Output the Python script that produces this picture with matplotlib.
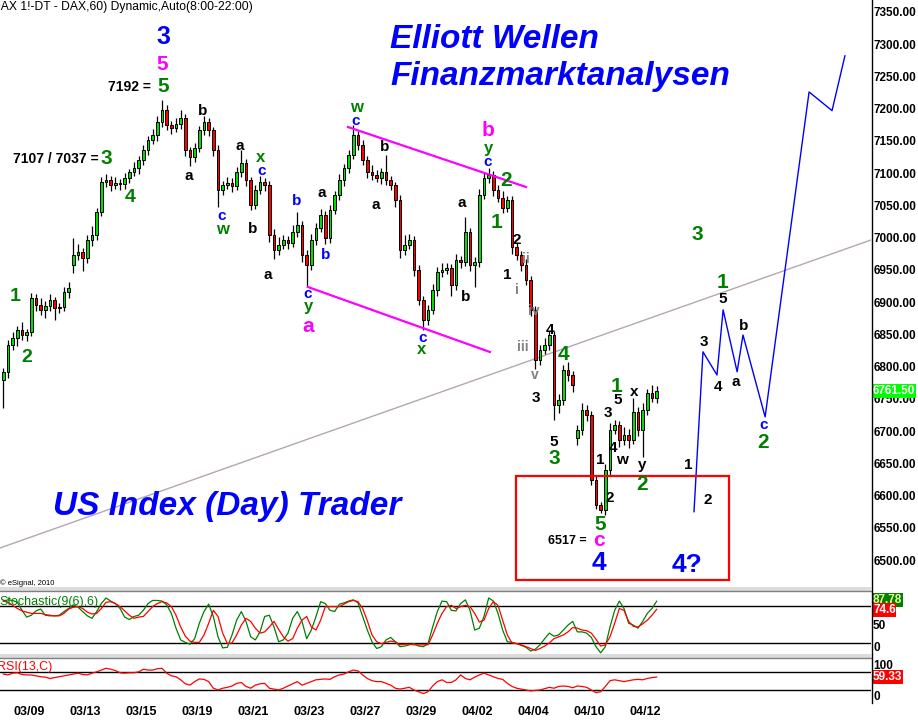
import matplotlib
matplotlib.use("Agg")
import matplotlib.pyplot as plt
from matplotlib.patches import Rectangle
from matplotlib.lines import Line2D
import numpy as np

plt.rcParams['font.family'] = ['Liberation Sans', 'DejaVu Sans']

W, H, DPI = 918, 721, 100

# ---------------------------------------------------------------- data
trading_days = ["03/08", "03/09", "03/12", "03/13", "03/14", "03/15", "03/16",
                "03/19", "03/20", "03/21", "03/22", "03/23", "03/26", "03/27",
                "03/28", "03/29", "03/30", "04/02", "04/03", "04/04", "04/05",
                "04/10", "04/11", "04/12"]
BARS_PER_DAY = 6
FIRST_SLOT = 3          # first bar sits in the 4th slot of 03/08

close = [6792, 6834, 6844, 6857, 6849, 6854, 6906, 6896, 6888, 6894,
         6903, 6891, 6892, 6916, 6922, 6973, 6978, 6968, 6996, 7004,
         7040, 7086, 7089, 7082, 7085, 7083, 7093, 7102, 7108, 7120,
         7136, 7151, 7159, 7179, 7198, 7175, 7170, 7176, 7186, 7136,
         7125, 7139, 7167, 7179, 7167, 7136, 7074, 7082, 7085, 7080,
         7102, 7116, 7089, 7051, 7074, 7086, 7082, 7004, 6981, 6989,
         6996, 6992, 7009, 7020, 6973, 6958, 6996, 7015, 7035, 6999,
         7043, 7066, 7089, 7108, 7128, 7159, 7144, 7120, 7102, 7097,
         7093, 7102, 7089, 7082, 7058, 6981, 6989, 6996, 6950, 6903,
         6872, 6888, 6919, 6947, 6950, 6953, 6927, 6965, 6962, 7009,
         6958, 6962, 7066, 7093, 7097, 7074, 7062, 7046, 7058, 6986,
         6973, 6958, 6934, 6888, 6810, 6826, 6834, 6849, 6740, 6748,
         6795, 6787, 6771, 6702, 6733, 6725, 6624, 6585, 6578, 6640,
         6702, 6709, 6686, 6694, 6686, 6730, 6702, 6733, 6759, 6751,
         6761.5]

up_wick = [6, 8, 10, 6, 12, 5, 8, 6, 10, 7,
           9, 5, 6, 8, 10, 27, 12, 6, 8, 14,
           6, 8, 10, 7, 9, 6, 8, 5, 9, 7,
           8, 6, 10, 9, 15, 8, 6, 9, 12, 6,
           5, 8, 6, 10, 7, 5, 8, 6, 9, 7,
           8, 20, 6, 5, 8, 10, 7, 6, 9, 12,
           8, 6, 10, 20, 6, 8, 9, 7, 10, 6,
           8, 6, 9, 7, 8, 16, 6, 8, 7, 10,
           8, 6, 26, 7, 5, 8, 15, 9, 6, 8,
           6, 8, 9, 7, 10, 8, 6, 9, 7, 23,
           6, 8, 9, 7, 11, 6, 8, 10, 7, 6,
           8, 6, 9, 7, 6, 8, 10, 7, 6, 9,
           8, 12, 6, 8, 10, 7, 6, 8, 5, 9,
           10, 8, 6, 12, 9, 21, 8, 10, 7, 12,
           9]

down_wick = [44, 10, 8, 12, 7, 9, 6, 10, 8, 12,
             7, 18, 8, 6, 9, 13, 8, 20, 7, 9,
             8, 6, 7, 10, 6, 9, 7, 8, 6, 9,
             7, 8, 6, 9, 7, 8, 10, 6, 8, 9,
             14, 7, 6, 8, 9, 10, 26, 8, 7, 9,
             6, 8, 9, 8, 7, 6, 9, 10, 14, 8,
             7, 9, 6, 8, 10, 35, 8, 7, 6, 9,
             7, 6, 8, 9, 7, 6, 8, 7, 9, 8,
             6, 9, 7, 8, 10, 12, 8, 7, 9, 8,
             15, 7, 6, 9, 8, 7, 18, 8, 9, 6,
             10, 35, 7, 6, 8, 9, 7, 8, 6, 12,
             8, 9, 7, 10, 14, 8, 7, 9, 23, 12,
             7, 9, 10, 12, 8, 9, 7, 6, 5, 8,
             9, 7, 10, 8, 12, 6, 9, 42, 8, 6,
             7]

# session openings that gap away from the prior close
gap_open = {0: 6780, 15: 6958, 123: 6690}

stoch_k = [88, 90, 89, 86, 73, 62, 65, 72, 75, 65,
           64, 64, 65, 71, 76, 82, 78, 71, 64, 60,
           71, 84, 93, 88, 84, 76, 62, 58, 63, 65,
           73, 84, 89, 89, 88, 82, 68, 44, 25, 21,
           18, 27, 52, 71, 83, 63, 30, 12, 13, 33,
           57, 71, 55, 30, 25, 38, 63, 65, 46, 22,
           25, 36, 60, 71, 55, 27, 41, 63, 87, 84,
           73, 71, 83, 85, 88, 90, 85, 63, 41, 22,
           11, 14, 25, 29, 22, 14, 15, 17, 19, 15,
           14, 19, 46, 71, 88, 87, 73, 72, 84, 90,
           73, 41, 44, 63, 93, 88, 68, 41, 22, 21,
           19, 16, 13, 7, 10, 17, 27, 36, 31, 33,
           41, 49, 55, 38, 38, 36, 29, 14, 4, 14,
           46, 73, 88, 76, 52, 49, 44, 55, 68, 76,
           87.78]

stoch_d = [88, 86, 81, 76, 72, 70, 68, 68, 68, 66,
           65, 64, 64, 68, 75, 78, 79, 76, 70, 67,
           68, 76, 86, 87, 84, 79, 72, 65, 60, 62,
           63, 71, 79, 84, 87, 85, 79, 65, 46, 31,
           23, 21, 21, 33, 52, 73, 63, 36, 19, 20,
           33, 49, 60, 55, 44, 36, 38, 46, 55, 42,
           30, 23, 27, 44, 57, 63, 46, 41, 57, 79,
           79, 79, 79, 83, 87, 89, 87, 76, 56, 33,
           22, 19, 21, 23, 22, 17, 18, 18, 17, 17,
           17, 17, 33, 52, 68, 79, 81, 76, 79, 81,
           79, 68, 54, 57, 76, 87, 81, 57, 33, 20,
           19, 17, 14, 11, 8, 11, 15, 20, 27, 30,
           33, 38, 45, 44, 41, 40, 36, 26, 15, 17,
           30, 52, 76, 73, 55, 47, 46, 51, 57, 65,
           74.6]

rsi = [66, 64, 68, 69, 65, 64, 64, 62, 60, 59,
       56, 58, 60, 62, 64, 66, 68, 65, 64, 68,
       71, 75, 79, 77, 74, 69, 68, 69, 69, 71,
       77, 75, 75, 78, 79, 68, 62, 60, 53, 44,
       41, 49, 55, 54, 49, 34, 30, 34, 36, 39,
       45, 47, 38, 34, 41, 44, 45, 34, 32, 30,
       34, 39, 44, 49, 41, 45, 49, 53, 54, 55,
       54, 60, 64, 66, 71, 75, 73, 64, 56, 51,
       49, 49, 45, 41, 34, 32, 34, 36, 30, 26,
       22, 26, 39, 49, 53, 47, 47, 53, 64, 56,
       53, 59, 64, 68, 64, 60, 56, 54, 45, 38,
       34, 32, 30, 28, 29, 30, 33, 36, 34, 38,
       39, 38, 35, 39, 38, 36, 30, 24, 26, 38,
       51, 53, 51, 49, 51, 53, 54, 53, 56, 58,
       59.33]

# projected wave path (day position, price)
forecast_day = [25.25, 25.57, 26.07, 26.29, 26.79, 27.0, 27.79, 29.36, 30.18, 30.64]
forecast_price = [6575, 6823, 6787, 6888, 6792, 6849, 6722, 7226, 7197, 7282]

# channel / trend lines (day position, price)
channel_top = ([12.89, 19.25], [7171.6, 7078.6])
channel_bottom = ([11.46, 17.96], [6923.5, 6822.7])
trend_line = ([0.464, 31.57], [6518.7, 6996.4])
target_box = (18.89, 26.5, 6469, 6630)      # x0, x1, low, high

last_price = 6761.50
price_ticks = list(range(6500, 7351, 50))

B, M, G, K, GR = '#0000ff', '#ff00ff', '#008000', 'black', '#808080'
wave_labels = [
    (163, 37, "3", B, 18), (162, 65, "5", M, 15), (129, 87, "7192 =", K, 10),
    (163, 86, "5", G, 15), (56, 159, "7107 / 7037 =", K, 10), (106, 158, "3", G, 15),
    (130, 198, "4", G, 14), (15, 296, "1", G, 14), (27, 357, "2", G, 14),
    (203, 111, "b", K, 11), (189, 176, "a", K, 11), (240, 146, "a", K, 11),
    (261, 158, "x", G, 12), (262, 171, "c", B, 11), (222, 216, "c", B, 11),
    (222, 229, "w", G, 12), (253, 229, "b", K, 11), (268, 275, "a", K, 11),
    (297, 201, "b", B, 11), (308, 294, "c", B, 11), (308, 307, "y", G, 12),
    (308, 327, "a", M, 15), (322, 193, "a", K, 11), (326, 255, "b", B, 11),
    (356, 107, "w", G, 12), (356, 121, "c", B, 11), (385, 147, "b", K, 11),
    (376, 205, "a", K, 11), (423, 338, "c", B, 11), (422, 350, "x", G, 12),
    (462, 203, "a", K, 11), (466, 297, "b", K, 11), (488, 131, "b", M, 15),
    (488, 148, "y", G, 12), (488, 162, "c", B, 11), (506, 180, "2", G, 15),
    (497, 223, "1", G, 15), (517, 240, "2", K, 11), (507, 275, "1", K, 11),
    (526, 259, "ii", GR, 10), (517, 290, "i", GR, 10), (534, 311, "iv", GR, 10),
    (523, 347, "iii", GR, 10), (535, 375, "v", GR, 10), (536, 398, "3", K, 11),
    (550, 330, "4", K, 11), (563, 355, "4", G, 15), (554, 442, "5", K, 11),
    (554, 458, "3", G, 15), (600, 460, "1", K, 11), (610, 498, "2", K, 11),
    (608, 413, "3", K, 11), (618, 400, "5", K, 11), (617, 387, "1", G, 15),
    (613, 448, "4", K, 11), (622, 460, "w", K, 11), (634, 392, "x", K, 11),
    (642, 465, "y", K, 11), (642, 484, "2", G, 15), (600, 525, "5", G, 15),
    (567, 541, "6517 =", K, 9), (599, 541, "c", M, 15), (599, 563, "4", B, 19),
    (687, 565, "4?", B, 19), (688, 465, "1", K, 11), (708, 500, "2", K, 11),
    (704, 342, "3", K, 11), (718, 387, "4", K, 11), (723, 299, "5", K, 11),
    (723, 282, "1", G, 15), (736, 382, "a", K, 11), (744, 326, "b", K, 11),
    (764, 425, "c", B, 11), (763, 443, "2", G, 15), (697, 234, "3", G, 15),
]

# ---------------------------------------------------------------- helpers
def fx(px):
    return px / W


def fy(py):
    return 1 - py / H


def axes_rect(x0, y0, x1, y1):
    return [fx(x0), fy(y1), fx(x1) - fx(x0), fy(y0) - fy(y1)]


fig = plt.figure(figsize=(W / DPI, H / DPI), dpi=DPI)
fig.patch.set_facecolor('white')

XMIN, XMAX = 13 / 28, 884 / 28
ax = fig.add_axes(axes_rect(0, 0, 871, 587))
ax_st = fig.add_axes(axes_rect(0, 592, 871, 655))
ax_rsi = fig.add_axes(axes_rect(0, 658, 871, 703))

for a in (ax, ax_st, ax_rsi):
    a.set_xlim(XMIN, XMAX)
    for s in a.spines.values():
        s.set_visible(False)
    a.set_xticks([])
    a.set_facecolor('none')

ax.set_ylim(6458.2, 7368.6)
ax_st.set_ylim(0.5, 102.7)
ax_rsi.set_ylim(0.6, 102.3)
ax_st.set_yticks([])
ax_rsi.set_yticks([])

# ---------------------------------------------------------------- candles
n = len(close)
xs = (np.arange(n) + FIRST_SLOT + 0.5) / BARS_PER_DAY
opens = [gap_open.get(i, close[i - 1] if i > 0 else close[0]) for i in range(n)]
body_w = 0.62 / BARS_PER_DAY
for i in range(n):
    o, c = opens[i], close[i]
    top, bot = max(o, c), min(o, c)
    ax.vlines(xs[i], bot - down_wick[i], top + up_wick[i], color='black', lw=0.9, zorder=2)
    col = '#00e000' if c >= o else '#ff0000'
    ax.add_patch(Rectangle((xs[i] - body_w / 2, bot), body_w, max(top - bot, 1.5),
                           facecolor=col, edgecolor='black', lw=0.7, zorder=3))

# trend line, channel, projection, target box
ax.plot(*trend_line, color='#b4a6b4', lw=1.0, zorder=1)
ax.plot(*channel_top, color=M, lw=1.6, zorder=4)
ax.plot(*channel_bottom, color=M, lw=1.6, zorder=4)
ax.plot(forecast_day, forecast_price, color='#0000ff', lw=1.0, zorder=4)
bx0, bx1, blo, bhi = target_box
ax.add_patch(Rectangle((bx0, blo), bx1 - bx0, bhi - blo, fill=False,
                       edgecolor='#ff0000', lw=1.6, zorder=4, clip_on=False))

# price scale on the right
ax.yaxis.tick_right()
ax.set_yticks(price_ticks)
ax.set_yticklabels([f"{v:.2f}" for v in price_ticks], fontsize=8.5, fontweight='bold')
ax.tick_params(axis='y', length=0, pad=2)

fig.text(fx(873), fy(391), f"{last_price:.2f}", fontsize=8.5, fontweight='bold',
         color='white', ha='left', va='center',
         bbox=dict(facecolor='#00ff00', edgecolor='none', pad=0.6))

# ---------------------------------------------------------------- stochastic
ax_st.plot(xs, stoch_k, color='#008000', lw=0.9, zorder=3)
ax_st.plot(xs, stoch_d, color='#ff0000', lw=0.9, zorder=3)
for lvl in (80, 20):
    ax_st.axhline(lvl, color='black', lw=1.0, zorder=2)
fig.text(fx(-1), fy(602), "Stochastic(9(6),6)", color='#008000', fontsize=9,
         ha='left', va='center')

# ---------------------------------------------------------------- RSI
ax_rsi.plot(xs, rsi, color='#ff0000', lw=0.9, zorder=3)
for lvl in (70, 30):
    ax_rsi.axhline(lvl, color='black', lw=1.0, zorder=2)
fig.text(fx(-3), fy(667), "RSI(13,C)", color='#ff0000', fontsize=9, ha='left', va='center')

# right-hand scale of the indicator panels
for txt, py in (("50", 626), ("0", 648), ("100", 666), ("0", 697)):
    fig.text(fx(873), fy(py), txt, fontsize=8.5, fontweight='bold', ha='left', va='center')
fig.text(fx(873), fy(600), f"{stoch_k[-1]:.2f}", fontsize=8.5, fontweight='bold',
         color='#e8ff90', ha='left', va='center',
         bbox=dict(facecolor='#008000', edgecolor='none', pad=0.6))
fig.text(fx(873), fy(610), f"{stoch_d[-1]:.1f}", fontsize=8.5, fontweight='bold',
         color='white', ha='left', va='center',
         bbox=dict(facecolor='#ff0000', edgecolor='none', pad=0.6))
fig.text(fx(873), fy(677), f"{rsi[-1]:.2f}", fontsize=8.5, fontweight='bold',
         color='white', ha='left', va='center',
         bbox=dict(facecolor='#ff0000', edgecolor='none', pad=0.6))

# date axis: every second session
for k in range(1, len(trading_days), 2):
    px = 15 + 28 * (k - 1) + 14
    fig.text(fx(px), fy(712), trading_days[k], fontsize=9, fontweight='bold',
             ha='center', va='center')

# panel separators and right border
for top in (587, 654):
    fig.add_artist(Rectangle((fx(0), fy(top + 4)), fx(871), fy(top) - fy(top + 4),
                             transform=fig.transFigure, facecolor='#dcdcdc',
                             edgecolor='none', zorder=5))
    fig.add_artist(Line2D([fx(0), fx(871)], [fy(top + 3.5)] * 2, color='#808080', lw=1.0,
                          transform=fig.transFigure, zorder=6))
fig.add_artist(Line2D([fx(871.5), fx(871.5)], [fy(0), fy(703)], color='black', lw=1.0,
                      transform=fig.transFigure, zorder=6))

# ---------------------------------------------------------------- text
fig.text(fx(-8), fy(7), "DAX 1!-DT - DAX,60) Dynamic,Auto(8:00-22:00)", fontsize=8.7,
         ha='left', va='center')
fig.text(fx(0), fy(583), "\u00a9 eSignal, 2010", fontsize=5.5, ha='left', va='center')

title_kw = dict(color='#0000ff', fontsize=24, fontweight='bold', style='italic',
                ha='left', va='baseline')
fig.text(fx(390), fy(48), "Elliott Wellen", **title_kw)
fig.text(fx(390), fy(85), "Finanzmarktanalysen", **title_kw)
fig.text(fx(53), fy(515), "US Index (Day) Trader", **title_kw)

for px, py, txt, col, size in wave_labels:
    fig.text(fx(px), fy(py), txt, color=col, fontsize=size, fontweight='bold',
             ha='center', va='center', zorder=7)

fig.savefig("out.png", dpi=DPI, facecolor='white')
